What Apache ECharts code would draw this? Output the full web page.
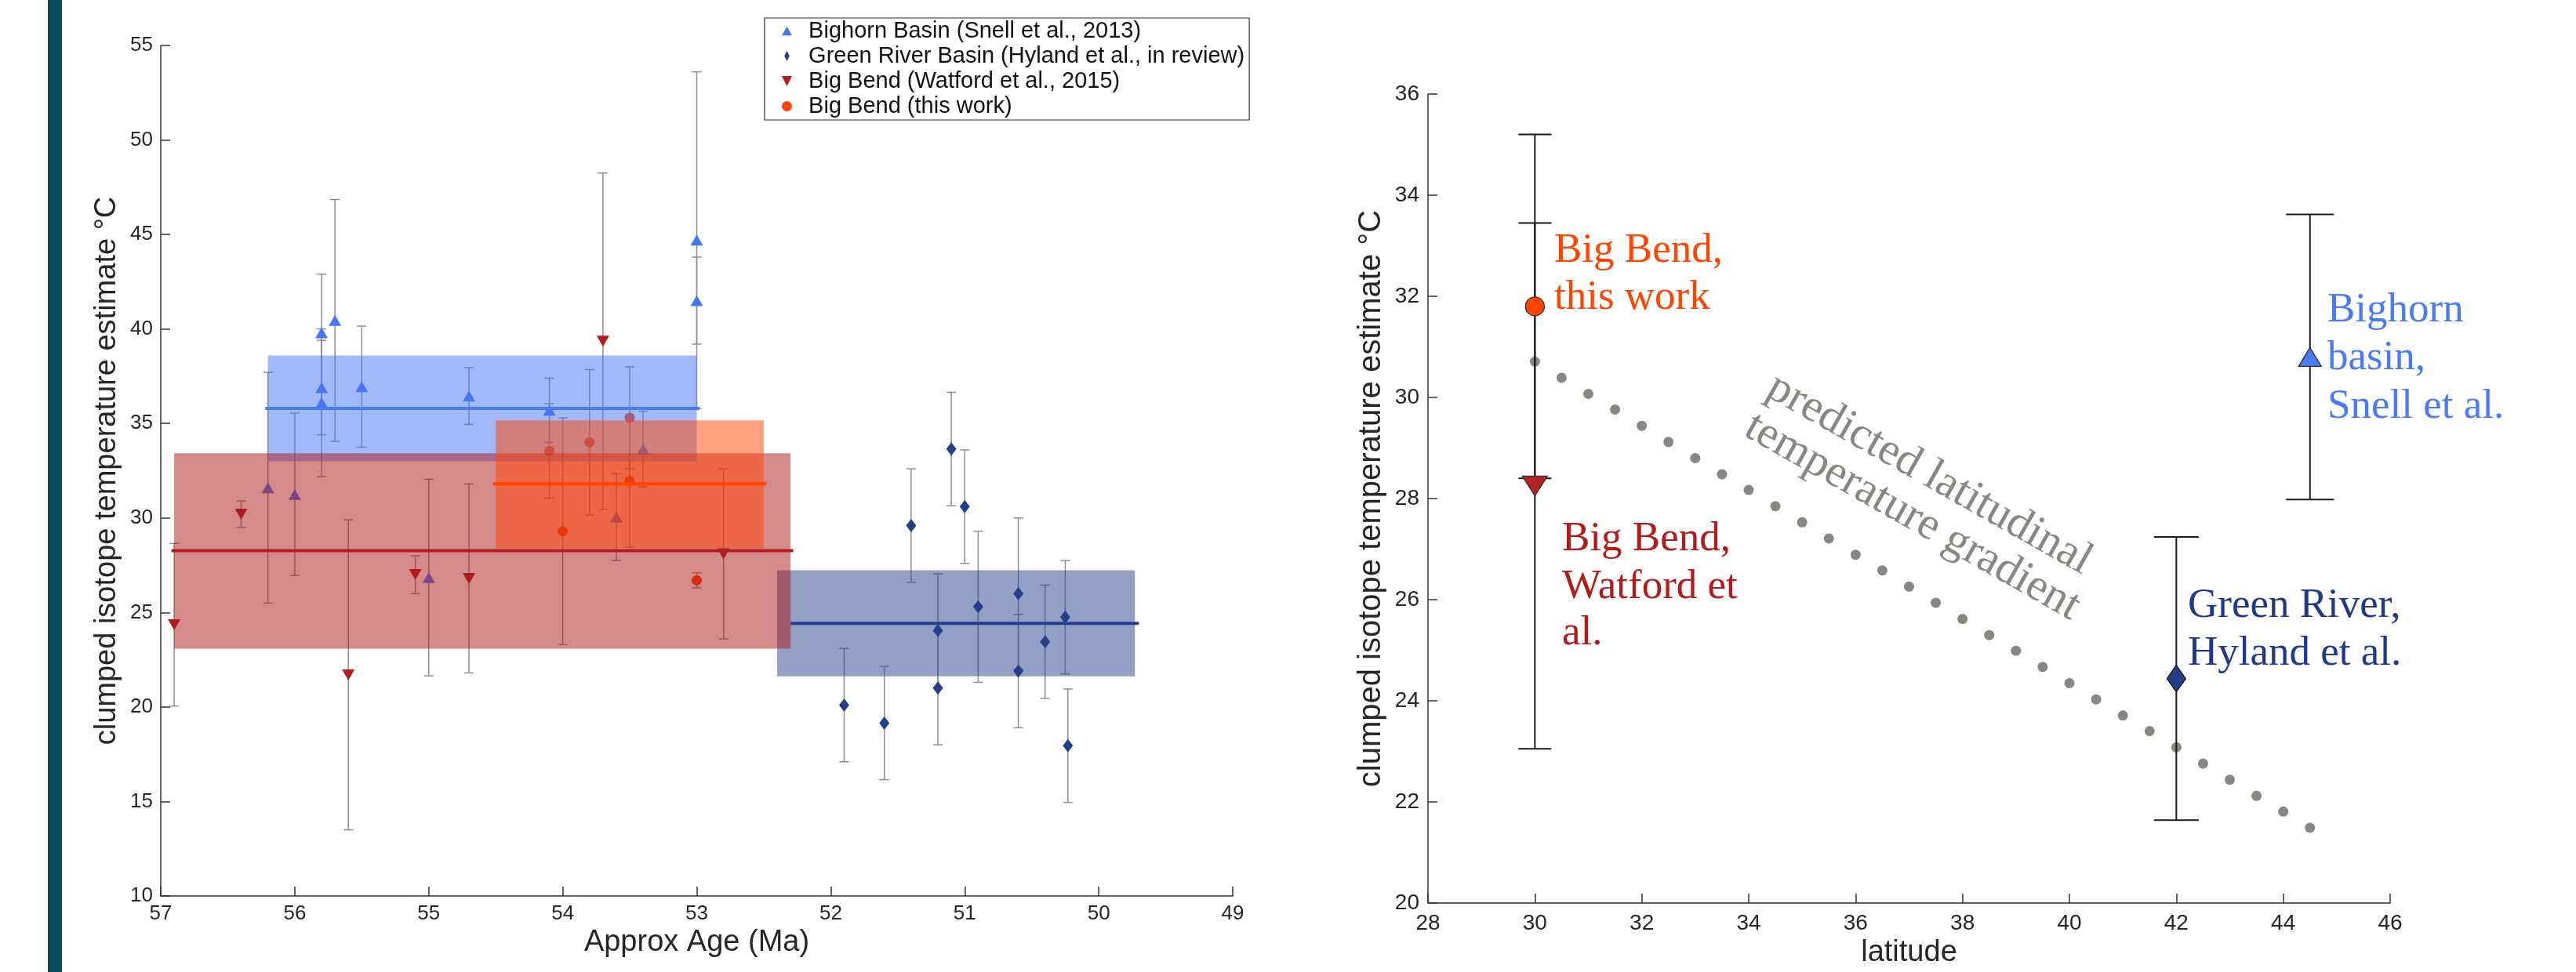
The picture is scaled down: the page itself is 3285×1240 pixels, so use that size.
<!DOCTYPE html>
<html>
<head>
<meta charset="utf-8">
<script src="https://cdn.jsdelivr.net/npm/echarts@6/dist/echarts.min.js"></script>
<style>
html,body{margin:0;padding:0;background:#fff;}
#c{width:3285px;height:1240px;}
</style>
</head>
<body>
<div id="c"></div>
<script>
// ================= DATA: left panel (age vs clumped isotope temperature) =================
const ageTicks = [49, 50, 51, 52, 53, 54, 55, 56, 57];
const tempTicksLeft = [10, 15, 20, 25, 30, 35, 40, 45, 50, 55];

// Bighorn Basin (Snell et al., 2013)
const bighornAge  = [56.2, 56.0, 55.8, 55.8, 55.8, 55.7, 55.5, 55.0, 54.7, 54.1, 53.6, 53.4, 53.0, 53.0];
const bighornTemp = [31.6, 31.25, 39.8, 36.9, 36.1, 40.45, 36.95, 26.85, 36.45, 35.7, 30.05, 33.65, 44.7, 41.5];
const bighornErr  = [6.1, 4.3, 3.1, 2.5, 3.9, 6.4, 3.2, 5.2, 1.5, 1.7, 2.3, 2.0, 8.9, 2.3];

// Green River Basin (Hyland et al., in review)
const greenAge  = [51.9, 51.6, 51.4, 51.2, 51.2, 51.1, 51.0, 50.9, 50.6, 50.6, 50.4, 50.25, 50.23];
const greenTemp = [20.1, 19.15, 29.6, 24.05, 21.0, 33.65, 30.6, 25.3, 26.0, 21.9, 23.45, 24.75, 17.95];
const greenErr  = [3.0, 3.0, 3.0, 3.0, 3.0, 3.0, 3.0, 4.0, 4.0, 3.0, 3.0, 3.0, 3.0];

// Big Bend (Watford et al., 2015)
const watfordAge  = [56.9, 56.4, 55.6, 55.1, 54.7, 53.7, 52.8];
const watfordTemp = [24.35, 30.2, 21.7, 27.0, 26.8, 39.35, 28.1];
const watfordErr  = [4.3, 0.7, 8.2, 1.0, 5.0, 8.9, 4.5];

// Big Bend (this work)
const thisWorkAge  = [54.1, 54.0, 53.8, 53.5, 53.5, 53.0];
const thisWorkTemp = [33.55, 29.3, 34.0, 35.3, 31.95, 26.7];
const thisWorkErr  = [2.5, 6.0, 3.85, 2.7, 3.5, 0.4];

// group boxes (order: Bighorn, Green River, Watford, this work)
const boxAgeOld    = [56.2, 52.4, 56.9, 54.5];
const boxAgeYoung  = [53.0, 49.73, 52.3, 52.5];
const boxTempLow   = [33.0, 21.62, 23.09, 28.4];
const boxTempHigh  = [38.6, 27.23, 33.42, 35.16];
const meanAgeOld   = [56.22, 52.3, 56.92, 54.52];
const meanAgeYoung = [52.98, 49.7, 52.28, 52.48];
const meanTemp     = [35.8, 24.42, 28.27, 31.81];

// ================= DATA: right panel (latitude vs temperature) =================
const latTicks = [28, 30, 32, 34, 36, 38, 40, 42, 44, 46];
const tempTicksRight = [20, 22, 24, 26, 28, 30, 32, 34, 36];

const gradientLat  = [30, 30.5, 31, 31.5, 32, 32.5, 33, 33.5, 34, 34.5, 35, 35.5, 36, 36.5, 37,
                      37.5, 38, 38.5, 39, 39.5, 40, 40.5, 41, 41.5, 42, 42.5, 43, 43.5, 44, 44.5];
const gradientTemp = [30.71, 30.39, 30.07, 29.76, 29.44, 29.12, 28.8, 28.48, 28.17, 27.85, 27.53, 27.21, 26.89, 26.58, 26.26,
                      25.94, 25.62, 25.3, 24.99, 24.67, 24.35, 24.03, 23.71, 23.4, 23.08, 22.76, 22.44, 22.12, 21.81, 21.49];

const siteLat  = [30, 30, 42, 44.5];          // this work, Watford, Green River, Bighorn
const siteTemp = [31.8, 28.25, 24.44, 30.8];
const siteErr  = [3.4, 5.2, 2.8, 2.82];

// ================= STYLES =================
const C_BLUE = '#4677f6', C_NAVY = '#233f8c', C_RED = '#b01e1e', C_ORANGE = '#ff4500';
const boxColors  = ['rgba(70,118,246,0.5)', 'rgba(38,66,140,0.5)', 'rgba(174,24,24,0.5)', 'rgba(255,68,0,0.5)'];
const lineColors = ['#4a7bf7', '#243f8c', '#b31d1d', '#ff4500'];
const AXIS = '#333', TXT = '#262626';
const SANS = '"Liberation Sans", Arial, sans-serif';
const SERIF = '"Liberation Serif", "Times New Roman", serif';
const TRI_DOWN = 'path://M0,0L10,0L5,10Z';
const TRI_UP = 'path://M5,0L10,9L0,9Z';
const DIAMOND_NARROW = 'path://M5,0L10,10L5,20L0,10Z';

const zip3 = (a, b, c) => a.map((v, i) => [v, b[i], c[i]]);
const zip2 = (a, b) => a.map((v, i) => [v, b[i]]);

function errRender(capHalf, color, width) {
  return function (params, api) {
    const x = api.value(0), y = api.value(1), e = api.value(2);
    const t = api.coord([x, y + e]), b = api.coord([x, y - e]);
    const st = { stroke: color, lineWidth: width, fill: null };
    return { type: 'group', children: [
      { type: 'line', shape: { x1: t[0], y1: t[1], x2: b[0], y2: b[1] }, style: st },
      { type: 'line', shape: { x1: t[0] - capHalf, y1: t[1], x2: t[0] + capHalf, y2: t[1] }, style: st },
      { type: 'line', shape: { x1: b[0] - capHalf, y1: b[1], x2: b[0] + capHalf, y2: b[1] }, style: st }
    ]};
  };
}
function errSeries(name, data, axis, capHalf, color, width, z) {
  return { type: 'custom', name, xAxisIndex: axis, yAxisIndex: axis, z, data,
    encode: { x: 0, y: 1 }, renderItem: errRender(capHalf, color, width), silent: true };
}
function scat(name, data, axis, symbol, size, color, z, border) {
  return { type: 'scatter', name, xAxisIndex: axis, yAxisIndex: axis, z, data, symbol, symbolSize: size,
    itemStyle: Object.assign({ color: color, opacity: 1 }, border || {}), emphasis: { disabled: true } };
}

const NAMES = ['Bighorn Basin (Snell et al., 2013)', 'Green River Basin (Hyland et al., in review)',
               'Big Bend (Watford et al., 2015)', 'Big Bend (this work)'];
const LEGEND_ICONS = [TRI_UP, DIAMOND_NARROW, TRI_DOWN, 'circle'];

const boxData  = boxAgeOld.map((v, i) => [v, boxAgeYoung[i], boxTempLow[i], boxTempHigh[i]]);
const meanData = meanAgeOld.map((v, i) => [v, meanAgeYoung[i], meanTemp[i]]);

function axisCommon(ticks, fs, margin) {
  return {
    type: 'value', min: ticks[0], max: ticks[ticks.length - 1], interval: ticks[1] - ticks[0],
    axisLine: { show: true, onZero: false, lineStyle: { color: AXIS, width: 1.5 } },
    axisTick: { show: true, inside: true, length: 12, lineStyle: { color: AXIS, width: 1.5 } },
    axisLabel: { fontSize: fs, color: TXT, fontFamily: SANS, margin: margin },
    splitLine: { show: false }
  };
}

const option = {
  animation: false,
  backgroundColor: '#fff',
  grid: [
    { left: 205, top: 58, width: 1367, height: 1085, containLabel: false },
    { left: 1821, top: 120, width: 1227, height: 1035, containLabel: false }
  ],
  xAxis: [
    Object.assign(axisCommon(ageTicks, 26, 10), { gridIndex: 0, inverse: true,
      name: 'Approx Age (Ma)', nameLocation: 'middle', nameGap: 40,
      nameTextStyle: { fontSize: 38, color: TXT, fontFamily: SANS } }),
    Object.assign(axisCommon(latTicks, 28, 12), { gridIndex: 1,
      name: 'latitude', nameLocation: 'middle', nameGap: 44,
      nameTextStyle: { fontSize: 38, color: TXT, fontFamily: SANS } })
  ],
  yAxis: [
    Object.assign(axisCommon(tempTicksLeft, 26, 10), { gridIndex: 0,
      name: 'clumped isotope temperature estimate °C', nameLocation: 'middle', nameGap: 49,
      nameTextStyle: { fontSize: 38, color: TXT, fontFamily: SANS } }),
    Object.assign(axisCommon(tempTicksRight, 28, 11), { gridIndex: 1,
      name: 'clumped isotope temperature estimate °C', nameLocation: 'middle', nameGap: 52,
      nameTextStyle: { fontSize: 40, color: TXT, fontFamily: SANS } })
  ],
  legend: {
    data: NAMES.map((n, i) => ({ name: n, icon: LEGEND_ICONS[i] })),
    orient: 'vertical', left: 975, top: 23,
    padding: [2, 6, 3, 22], itemGap: 3, itemWidth: 13, itemHeight: 13,
    formatter: function (n) { return '  ' + n; },
    backgroundColor: '#fff', borderColor: '#333', borderWidth: 1.2,
    textStyle: { fontSize: 29, lineHeight: 29, color: '#111', fontFamily: SANS },
    selectedMode: false
  },
  series: [
    // ---- left panel: error bars ----
    errSeries('e1', zip3(bighornAge, bighornTemp, bighornErr), 0, 6, '#8f8f8f', 1.5, 2),
    errSeries('e2', zip3(greenAge, greenTemp, greenErr), 0, 6, '#8f8f8f', 1.5, 2),
    errSeries('e3', zip3(watfordAge, watfordTemp, watfordErr), 0, 6, '#8f8f8f', 1.5, 2),
    errSeries('e4', zip3(thisWorkAge, thisWorkTemp, thisWorkErr), 0, 6, '#8f8f8f', 1.5, 2),
    // ---- left panel: points ----
    scat(NAMES[0], zip2(bighornAge, bighornTemp), 0, 'triangle', [16, 14], C_BLUE, 3),
    scat(NAMES[1], zip2(greenAge, greenTemp), 0, 'diamond', [13, 17], C_NAVY, 3),
    scat(NAMES[2], zip2(watfordAge, watfordTemp), 0, TRI_DOWN, [16, 14], C_RED, 3),
    scat(NAMES[3], zip2(thisWorkAge, thisWorkTemp), 0, 'circle', 13, C_ORANGE, 3),
    // ---- left panel: group boxes ----
    { type: 'custom', name: 'boxes', xAxisIndex: 0, yAxisIndex: 0, z: 4, silent: true,
      data: boxData, encode: { x: [0, 1], y: [2, 3] },
      renderItem: function (params, api) {
        const p0 = api.coord([api.value(0), api.value(3)]);
        const p1 = api.coord([api.value(1), api.value(2)]);
        return { type: 'rect',
          shape: { x: Math.min(p0[0], p1[0]), y: Math.min(p0[1], p1[1]),
                   width: Math.abs(p1[0] - p0[0]), height: Math.abs(p1[1] - p0[1]) },
          style: { fill: boxColors[params.dataIndex] } };
      } },
    // ---- left panel: group mean lines ----
    { type: 'custom', name: 'means', xAxisIndex: 0, yAxisIndex: 0, z: 5, silent: true,
      data: meanData, encode: { x: [0, 1], y: 2 },
      renderItem: function (params, api) {
        const a = api.coord([api.value(0), api.value(2)]);
        const b = api.coord([api.value(1), api.value(2)]);
        return { type: 'line', shape: { x1: a[0], y1: a[1], x2: b[0], y2: b[1] },
          style: { stroke: lineColors[params.dataIndex], lineWidth: 4 } };
      } },

    // ---- right panel: predicted gradient ----
    scat('gradient', zip2(gradientLat, gradientTemp), 1, 'circle', 13, '#8a8682', 2),
    // ---- right panel: error bars ----
    errSeries('r1', [[siteLat[0], siteTemp[0], siteErr[0]], [siteLat[1], siteTemp[1], siteErr[1]]], 1, 21, '#1a1a1a', 2, 3),
    errSeries('r2', [[siteLat[2], siteTemp[2], siteErr[2]]], 1, 28.5, '#1a1a1a', 2, 3),
    errSeries('r3', [[siteLat[3], siteTemp[3], siteErr[3]]], 1, 30.5, '#1a1a1a', 2, 3),
    // ---- right panel: markers ----
    scat('site this work', [[siteLat[0], siteTemp[0]]], 1, 'circle', 24, C_ORANGE, 4, { borderColor: '#333', borderWidth: 1.3 }),
    scat('site Watford', [[siteLat[1], siteTemp[1]]], 1, TRI_DOWN, [32, 25], '#b22222', 4, { borderColor: '#333', borderWidth: 1.3 }),
    scat('site Green River', [[siteLat[2], siteTemp[2]]], 1, 'diamond', [24, 34], '#213d8a', 4, { borderColor: '#111', borderWidth: 1.3 }),
    scat('site Bighorn', [[siteLat[3], siteTemp[3]]], 1, 'triangle', [29, 24], '#4a7bf7', 4, { borderColor: '#333', borderWidth: 1.3 })
  ],
  graphic: [
    { type: 'rect', left: 61, top: 0, shape: { width: 18, height: 1240 }, style: { fill: '#0b4b5d' }, silent: true },
    // annotations (right panel)
    ...[['Big Bend,', 1982, 320], ['this work', 1982, 380]].map(t => ({ type: 'text', x: t[1], y: t[2], silent: true,
        style: { text: t[0], fontSize: 53, fontFamily: SERIF, fill: '#ff4500', align: 'left', verticalAlign: 'middle' } })),
    ...[['Big Bend,', 1992, 688], ['Watford et', 1992, 749], ['al.', 1992, 808]].map(t => ({ type: 'text', x: t[1], y: t[2], silent: true,
        style: { text: t[0], fontSize: 53, fontFamily: SERIF, fill: '#b31b1b', align: 'left', verticalAlign: 'middle' } })),
    ...[['Bighorn', 2968, 396], ['basin,', 2968, 457], ['Snell et al.', 2968, 519]].map(t => ({ type: 'text', x: t[1], y: t[2], silent: true,
        style: { text: t[0], fontSize: 53, fontFamily: SERIF, fill: '#4a7bf7', align: 'left', verticalAlign: 'middle' } })),
    ...[['Green River,', 2790, 773], ['Hyland et al.', 2790, 834]].map(t => ({ type: 'text', x: t[1], y: t[2], silent: true,
        style: { text: t[0], fontSize: 53, fontFamily: SERIF, fill: '#1f3a8a', align: 'left', verticalAlign: 'middle' } })),
    { type: 'group', x: 2248, y: 508, rotation: -29.5 * Math.PI / 180, silent: true, children: [
      { type: 'text', x: 0, y: -20, style: { text: 'predicted latitudinal', fontSize: 58, fontFamily: SERIF, fill: '#8a8682', align: 'left', verticalAlign: 'middle' } },
      { type: 'text', x: 0, y: 38, style: { text: 'temperature gradient', fontSize: 58, fontFamily: SERIF, fill: '#8a8682', align: 'left', verticalAlign: 'middle' } }
    ]}
  ]
};

const chart = echarts.init(document.getElementById('c'), null, { renderer: 'canvas', width: 3285, height: 1240 });
chart.setOption(option);
</script>
</body>
</html>
